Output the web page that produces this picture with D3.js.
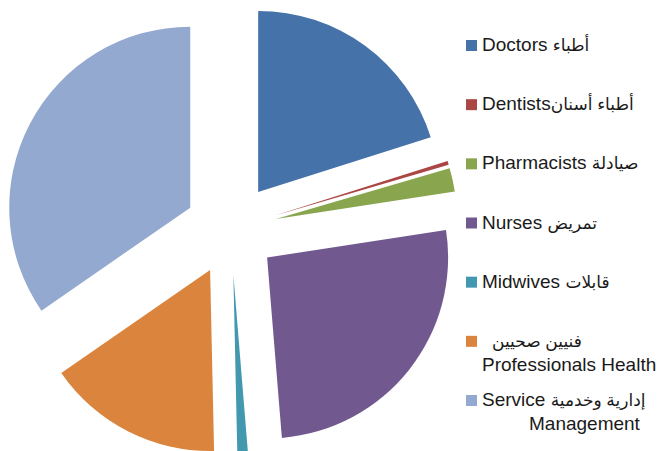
<!DOCTYPE html>
<html>
<head>
<meta charset="utf-8">
<script src="https://cdn.jsdelivr.net/npm/d3@7"></script>
<style>
  body { margin: 0; background: #fff; }
  text { font-family: "Liberation Sans", Arial, "DejaVu Sans", sans-serif; fill: #1a1a1a; }
</style>
</head>
<body>
<script>
// Data (share of staff, %)
var categories = ["Doctors", "Dentists", "Pharmacists", "Nurses", "Midwives", "Professionals Health", "Management"];
var shares = [20.1, 0.35, 2.1, 26.1, 0.95, 15.7, 34.6];
var colors = ["#4572A8", "#AA4643", "#89A54E", "#71588F", "#4198AF", "#DB843D", "#93A9CF"];

// legend labels
var labelEn = ["Doctors ", "Dentists", "Pharmacists ", "Nurses ", "Midwives ", "", "Service "];
var labelAr = ["أطباء", "أطباء أسنان", "صيادلة", "تمريض", "قابلات", "فنيين صحيين", "إدارية وخدمية"];
var labelLine2 = ["", "", "", "", "", "Professionals Health", "Management"];

var width = 663, height = 451;
var radius = 181;
var explode = 46;

var svg = d3.select("body").append("svg")
  .attr("width", width)
  .attr("height", height);

var pie = d3.pie().sort(null).value(function(d) { return d; });
var arc = d3.arc().innerRadius(0).outerRadius(radius);

var slices = svg.append("g")
  .attr("transform", "translate(231,229)");

slices.selectAll("path")
  .data(pie(shares))
  .enter()
  .append("path")
  .attr("d", arc)
  .attr("fill", function(d, i) { return colors[i]; })
  .attr("transform", function(d) {
    var a = (d.startAngle + d.endAngle) / 2;
    return "translate(" + (explode * Math.sin(a)) + "," + (-explode * Math.cos(a)) + ")";
  });

// legend
var legendY = d3.scalePoint().domain(categories).range([40, 395]);

var legend = svg.append("g").selectAll("g")
  .data(categories)
  .enter()
  .append("g")
  .attr("transform", function(d) { return "translate(0," + legendY(d) + ")"; });

legend.append("rect")
  .attr("x", 466)
  .attr("width", 11)
  .attr("height", 11)
  .attr("fill", function(d, i) { return colors[i]; });

var line1 = legend.append("text")
  .attr("x", function(d, i) { return i == 5 ? 492 : 482; })
  .attr("y", 11)
  .style("font-size", "19px");

line1.append("tspan")
  .text(function(d, i) { return labelEn[i]; });

line1.append("tspan")
  .style("font-size", "17px")
  .text(function(d, i) { return labelAr[i]; });

legend.append("text")
  .attr("x", function(d, i) { return i == 6 ? 529 : 482; })
  .attr("y", 35)
  .style("font-size", "19px")
  .text(function(d, i) { return labelLine2[i]; });
</script>
</body>
</html>
